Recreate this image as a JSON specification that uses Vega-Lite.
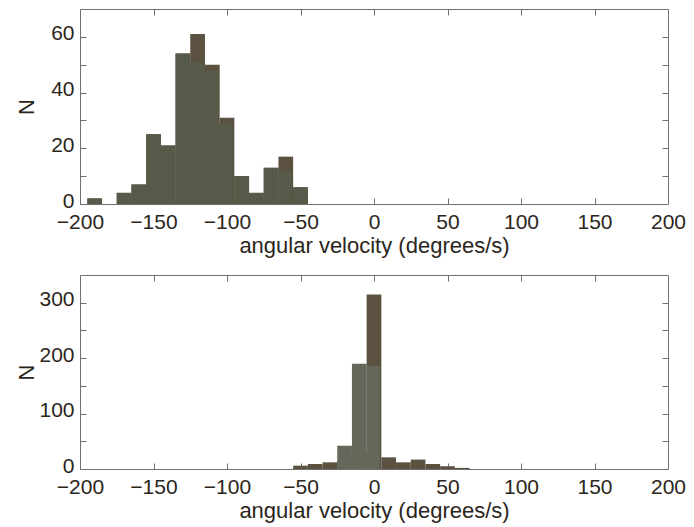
{
  "$schema": "https://vega.github.io/schema/vega-lite/v6.json",
  "background": "white",
  "padding": {"left": 14, "top": 8, "right": 2, "bottom": 2},
  "spacing": 17,
  "config": {
    "view": {"stroke": "#6f6f6f", "strokeWidth": 1},
    "axis": {
      "labelFont": "Liberation Sans",
      "labelFontSize": 21,
      "labelColor": "#2b261b",
      "labelFlush": false,
      "labelOverlap": false,
      "titleFont": "Liberation Sans",
      "titleFontSize": 22,
      "titleFontWeight": "normal",
      "titleColor": "#2b261b",
      "domain": false,
      "grid": false,
      "tickColor": "#6f6f6f",
      "tickSize": -6,
      "labelPadding": 12
    },
    "axisX": {"labelPadding": 13, "titlePadding": 3},
    "axisY": {"labelOffset": -3}
  },
  "datasets": {
    "upper": [
      {"series": "b", "lo": -195, "hi": -185, "n": 2},
      {"series": "b", "lo": -175, "hi": -165, "n": 4},
      {"series": "b", "lo": -165, "hi": -155, "n": 7},
      {"series": "b", "lo": -155, "hi": -145, "n": 25},
      {"series": "b", "lo": -145, "hi": -135, "n": 21},
      {"series": "b", "lo": -135, "hi": -125, "n": 54},
      {"series": "b", "lo": -125, "hi": -115, "n": 61},
      {"series": "b", "lo": -115, "hi": -105, "n": 50},
      {"series": "b", "lo": -105, "hi": -95, "n": 31},
      {"series": "b", "lo": -95, "hi": -85, "n": 10},
      {"series": "b", "lo": -85, "hi": -75, "n": 4},
      {"series": "b", "lo": -75, "hi": -65, "n": 13},
      {"series": "b", "lo": -65, "hi": -55, "n": 17},
      {"series": "b", "lo": -55, "hi": -45, "n": 6},
      {"series": "g", "lo": -195, "hi": -185, "n": 2},
      {"series": "g", "lo": -175, "hi": -165, "n": 4},
      {"series": "g", "lo": -165, "hi": -155, "n": 7},
      {"series": "g", "lo": -155, "hi": -145, "n": 25},
      {"series": "g", "lo": -145, "hi": -135, "n": 21},
      {"series": "g", "lo": -135, "hi": -125, "n": 54},
      {"series": "g", "lo": -125, "hi": -115, "n": 51},
      {"series": "g", "lo": -115, "hi": -106, "n": 48},
      {"series": "g", "lo": -106, "hi": -96, "n": 29},
      {"series": "g", "lo": -95, "hi": -85, "n": 10},
      {"series": "g", "lo": -85, "hi": -75, "n": 4},
      {"series": "g", "lo": -75, "hi": -65, "n": 13},
      {"series": "g", "lo": -65, "hi": -56, "n": 12},
      {"series": "g", "lo": -55, "hi": -45, "n": 6}
    ],
    "lower": [
      {"series": "b", "lo": -55, "hi": -45, "n": 6},
      {"series": "b", "lo": -45, "hi": -35, "n": 9},
      {"series": "b", "lo": -35, "hi": -25, "n": 12},
      {"series": "b", "lo": -25, "hi": -15, "n": 15},
      {"series": "b", "lo": -15, "hi": -5, "n": 30},
      {"series": "b", "lo": -5, "hi": 5, "n": 315},
      {"series": "b", "lo": 5, "hi": 15, "n": 21},
      {"series": "b", "lo": 15, "hi": 25, "n": 12},
      {"series": "b", "lo": 25, "hi": 35, "n": 17},
      {"series": "b", "lo": 35, "hi": 45, "n": 9},
      {"series": "b", "lo": 45, "hi": 55, "n": 5},
      {"series": "b", "lo": 55, "hi": 65, "n": 2},
      {"series": "g", "lo": -25, "hi": -15, "n": 42},
      {"series": "g", "lo": -15, "hi": -5, "n": 190},
      {"series": "g", "lo": -5, "hi": 4, "n": 186}
    ]
  },
  "vconcat": [
    {
      "width": 588,
      "height": 195,
      "data": {"name": "upper"},
      "layer": [
        {
          "transform": [{"filter": "datum.series === 'b'"}],
          "mark": {"type": "bar", "color": "#5a5140"},
          "encoding": {
            "x": {
              "field": "lo", "type": "quantitative",
              "scale": {"domain": [-200, 200], "nice": false},
              "axis": {"orient": "bottom", "values": [-200, -150, -100, -50, 0, 50, 100, 150, 200], "title": "angular velocity (degrees/s)"}
            },
            "x2": {"field": "hi"},
            "y": {
              "field": "n", "type": "quantitative",
              "scale": {"domain": [0, 70], "nice": false},
              "axis": {"orient": "left", "values": [0, 10, 20, 30, 40, 50, 60], "labelExpr": "datum.value % 20 === 0 ? datum.label : ''", "title": "N", "titleX": -42}
            },
            "y2": {"datum": 0}
          }
        },
        {
          "transform": [{"filter": "datum.series === 'g'"}],
          "mark": {"type": "bar", "color": "#575a48"},
          "encoding": {
            "x": {
              "field": "lo", "type": "quantitative",
              "scale": {"domain": [-200, 200], "nice": false},
              "axis": {"orient": "top", "values": [-150, -100, -50, 0, 50, 100, 150], "labels": false, "title": null}
            },
            "x2": {"field": "hi"},
            "y": {
              "field": "n", "type": "quantitative",
              "scale": {"domain": [0, 70], "nice": false},
              "axis": {"orient": "right", "values": [10, 20, 30, 40, 50, 60], "labels": false, "title": null}
            },
            "y2": {"datum": 0}
          }
        }
      ],
      "resolve": {"scale": {"x": "independent", "y": "independent"}}
    },
    {
      "width": 588,
      "height": 194,
      "data": {"name": "lower"},
      "layer": [
        {
          "transform": [{"filter": "datum.series === 'b'"}],
          "mark": {"type": "bar", "color": "#5a5140"},
          "encoding": {
            "x": {
              "field": "lo", "type": "quantitative",
              "scale": {"domain": [-200, 200], "nice": false},
              "axis": {"orient": "bottom", "values": [-200, -150, -100, -50, 0, 50, 100, 150, 200], "title": "angular velocity (degrees/s)"}
            },
            "x2": {"field": "hi"},
            "y": {
              "field": "n", "type": "quantitative",
              "scale": {"domain": [0, 350], "nice": false},
              "axis": {"orient": "left", "values": [0, 50, 100, 150, 200, 250, 300], "labelExpr": "datum.value % 100 === 0 ? datum.label : ''", "title": "N", "titleX": -42}
            },
            "y2": {"datum": 0}
          }
        },
        {
          "transform": [{"filter": "datum.series === 'g'"}],
          "mark": {"type": "bar", "color": "#64675a"},
          "encoding": {
            "x": {
              "field": "lo", "type": "quantitative",
              "scale": {"domain": [-200, 200], "nice": false},
              "axis": {"orient": "top", "values": [-150, -100, -50, 0, 50, 100, 150], "labels": false, "title": null}
            },
            "x2": {"field": "hi"},
            "y": {
              "field": "n", "type": "quantitative",
              "scale": {"domain": [0, 350], "nice": false},
              "axis": {"orient": "right", "values": [50, 100, 150, 200, 250, 300], "labels": false, "title": null}
            },
            "y2": {"datum": 0}
          }
        }
      ],
      "resolve": {"scale": {"x": "independent", "y": "independent"}}
    }
  ]
}
